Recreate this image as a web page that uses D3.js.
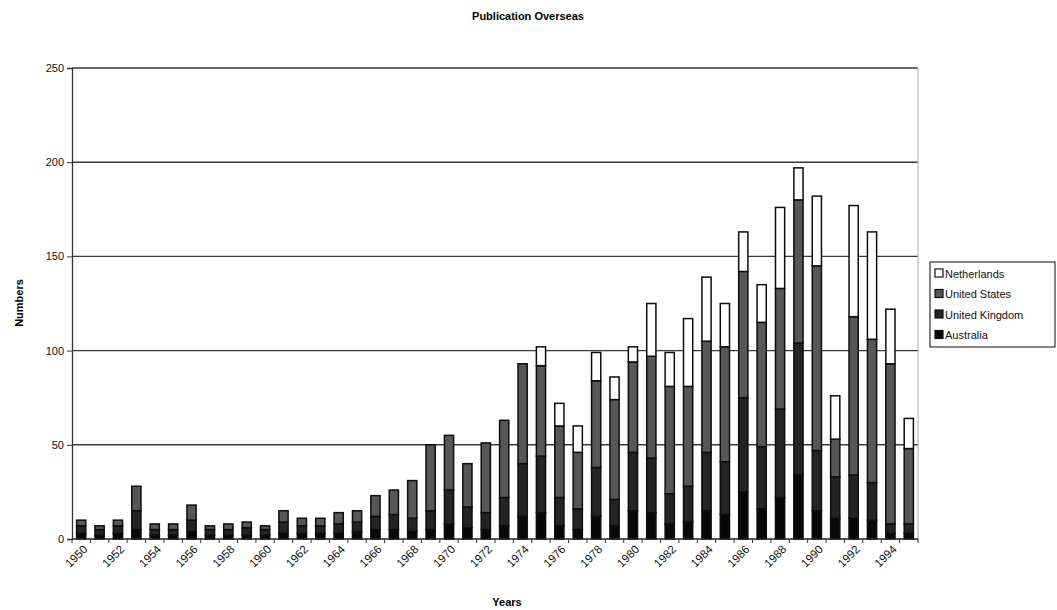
<!DOCTYPE html>
<html>
<head>
<meta charset="utf-8">
<script src="https://cdn.jsdelivr.net/npm/d3@7"></script>
<style>
  html, body { margin: 0; padding: 0; background: #fff; }
  svg { display: block; font-family: "Liberation Sans", Arial, sans-serif; }
</style>
</head>
<body>
<svg id="chart" width="1057" height="610"></svg>
<script>
// Publications overseas per year, stacked by country of publication
const years = d3.range(1950, 1996);
const australia    = [3,2,3,5,2,2,4,2,2,2,2,3,3,3,3,4,5,5,4,5,8,6,5,7,12,14,7,5,12,7,15,14,8,9,15,13,25,16,22,34,15,11,11,10,3,3];
const unitedKingdom = [4,3,4,10,3,3,6,3,3,4,3,6,4,4,5,5,7,8,7,10,18,11,9,15,28,30,15,11,26,14,31,29,16,19,31,28,50,33,47,70,32,22,23,20,5,5];
const unitedStates = [3,2,3,13,3,3,8,2,3,3,2,6,4,4,6,6,11,13,20,35,29,23,37,41,53,48,38,30,46,53,48,54,57,53,59,61,67,66,64,76,98,20,84,76,85,40];
const netherlands  = [0,0,0,0,0,0,0,0,0,0,0,0,0,0,0,0,0,0,0,0,0,0,0,0,0,10,12,14,15,12,8,28,18,36,34,23,21,20,43,17,37,23,59,57,29,16];
const seriesNames = ["Australia", "United Kingdom", "United States", "Netherlands"];
const yTicks = [0, 50, 100, 150, 200, 250];
const xTickYears = d3.range(1950, 1996, 2);

const fills = {
  "Australia": "#080808",
  "United Kingdom": "#242424",
  "United States": "#575757",
  "Netherlands": "#ffffff"
};

const rows = years.map((y, i) => ({
  year: y,
  "Australia": australia[i],
  "United Kingdom": unitedKingdom[i],
  "United States": unitedStates[i],
  "Netherlands": netherlands[i]
}));

const svg = d3.select("#chart");
const plot = { left: 72, right: 918, top: 68, bottom: 539 };

const x = d3.scaleBand().domain(years).range([plot.left, plot.right]).paddingInner(0.5).paddingOuter(0.25);
const xEdge = d3.scaleLinear().domain([0, years.length]).range([plot.left, plot.right]);
const y = d3.scaleLinear().domain([0, 250]).range([plot.bottom, plot.top]);

// Horizontal gridlines
svg.append("g").selectAll("line").data(yTicks.filter(d => d > 0)).join("line")
  .attr("x1", plot.left).attr("x2", plot.right)
  .attr("y1", d => y(d)).attr("y2", d => y(d))
  .attr("stroke", "#3a3a3a").attr("stroke-width", 1.4);

// Right border of plot area
svg.append("line")
  .attr("x1", plot.right).attr("x2", plot.right)
  .attr("y1", plot.top).attr("y2", plot.bottom)
  .attr("stroke", "#aaa").attr("stroke-width", 1);

// Stacked bars
const stack = d3.stack().keys(seriesNames)(rows);
svg.append("g").selectAll("g").data(stack).join("g")
  .attr("fill", d => fills[d.key])
  .selectAll("rect").data(d => d.filter(s => s[1] > s[0])).join("rect")
  .attr("x", d => x(d.data.year))
  .attr("width", x.bandwidth())
  .attr("y", d => y(d[1]))
  .attr("height", d => y(d[0]) - y(d[1]))
  .attr("stroke", "#0d0d0d").attr("stroke-width", 1.5);

// Y axis
const yAxis = d3.axisLeft(y).tickValues(yTicks).tickSize(5).tickPadding(3);
const gy = svg.append("g").attr("transform", `translate(${plot.left},0)`).call(yAxis);
gy.select(".domain").attr("stroke", "#333").attr("stroke-width", 1.3);
gy.selectAll(".tick line").attr("stroke", "#333");
gy.selectAll("text").attr("font-size", 11).attr("fill", "#111");

// X axis baseline with category boundary ticks
svg.append("line")
  .attr("x1", plot.left).attr("x2", plot.right)
  .attr("y1", plot.bottom).attr("y2", plot.bottom)
  .attr("stroke", "#222").attr("stroke-width", 1.4);
svg.append("g").selectAll("line").data(d3.range(years.length + 1)).join("line")
  .attr("x1", d => xEdge(d)).attr("x2", d => xEdge(d))
  .attr("y1", plot.bottom).attr("y2", plot.bottom + 4)
  .attr("stroke", "#333");

// X tick labels, rotated
svg.append("g").selectAll("text").data(xTickYears).join("text")
  .attr("transform", d => `translate(${x(d) + x.bandwidth() / 2 + 7},${plot.bottom + 11}) rotate(-45)`)
  .attr("text-anchor", "end")
  .attr("font-size", 11.5)
  .attr("fill", "#111")
  .text(d => d);

// Titles
svg.append("text").attr("x", 528).attr("y", 20).attr("text-anchor", "middle")
  .attr("font-size", 11).attr("font-weight", "bold").text("Publication Overseas");
svg.append("text").attr("x", 507).attr("y", 606).attr("text-anchor", "middle")
  .attr("font-size", 11).attr("font-weight", "bold").text("Years");
svg.append("text").attr("transform", "translate(23,303) rotate(-90)").attr("text-anchor", "middle")
  .attr("font-size", 11).attr("font-weight", "bold").text("Numbers");

// Legend
const legend = svg.append("g").attr("transform", "translate(930,262)");
legend.append("rect").attr("width", 125).attr("height", 85)
  .attr("fill", "#fff").attr("stroke", "#333").attr("stroke-width", 1.2);
const legendOrder = seriesNames.slice().reverse();
const li = legend.selectAll("g").data(legendOrder).join("g")
  .attr("transform", (d, i) => `translate(5,${12 + i * 20.5})`);
li.append("rect").attr("x", 0).attr("y", -5).attr("width", 8).attr("height", 8)
  .attr("fill", d => fills[d]).attr("stroke", "#111").attr("stroke-width", 1.2);
li.append("text").attr("x", 10).attr("y", 3.5).attr("font-size", 11).attr("fill", "#111").text(d => d);
</script>
</body>
</html>
